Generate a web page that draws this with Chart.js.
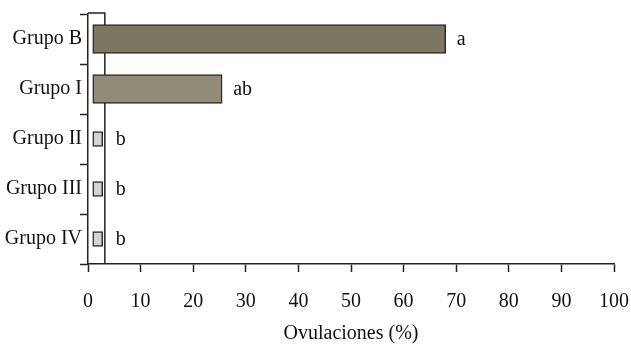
<!DOCTYPE html>
<html>
<head>
<meta charset="utf-8">
<script src="https://cdn.jsdelivr.net/npm/chart.js@4/dist/chart.umd.min.js"></script>
<style>
  html, body { margin: 0; padding: 0; background: #ffffff; }
  #wrap { width: 631px; height: 346px; position: relative; }
</style>
</head>
<body>
<div id="wrap"><canvas id="c" width="631" height="346"></canvas></div>
<script>
// Grupos y porcentaje de ovulaciones
const categories = ['Grupo B', 'Grupo I', 'Grupo II', 'Grupo III', 'Grupo IV'];
const ovulaciones = [68, 25.5, 2.8, 2.8, 2.8];
const letras = ['a', 'ab', 'b', 'b', 'b'];
const xTicks = [0, 10, 20, 30, 40, 50, 60, 70, 80, 90, 100];
const barBase = 0.9;      // bars rise from just inside the y-axis frame
const frameLimit = 3.2;   // right edge of the frame alongside the y-axis

const FONT = '"Liberation Serif", "DejaVu Serif", serif';
const FONT_SIZE = 20;
const INK = '#222222';

// wide bars for the first two groups, narrow ones for the rest
const wideIdx = [0, 1];
const wideData = categories.map((c, i) => wideIdx.includes(i) ? [barBase, ovulaciones[i]] : null);
const narrowData = categories.map((c, i) => wideIdx.includes(i) ? null : [barBase, ovulaciones[i]]);

const framePlugin = {
  id: 'frame',
  beforeDatasetsDraw(chart) {
    const { ctx, chartArea, scales } = chart;
    const x0 = scales.x.getPixelForValue(0);
    const x1 = scales.x.getPixelForValue(frameLimit);
    ctx.save();
    ctx.strokeStyle = INK;
    ctx.lineWidth = 1.5;
    ctx.beginPath();
    ctx.moveTo(x0, chartArea.top - 1);
    ctx.lineTo(x1, chartArea.top - 1);
    ctx.lineTo(x1, chartArea.bottom);
    ctx.stroke();
    ctx.restore();
  }
};

const letterPlugin = {
  id: 'letters',
  afterDatasetsDraw(chart) {
    const { ctx, scales } = chart;
    const frameRight = scales.x.getPixelForValue(frameLimit);
    ctx.save();
    ctx.fillStyle = '#111111';
    ctx.font = FONT_SIZE + 'px ' + FONT;
    ctx.textAlign = 'left';
    ctx.textBaseline = 'middle';
    categories.forEach((c, i) => {
      const end = scales.x.getPixelForValue(ovulaciones[i]);
      const x = Math.max(end, frameRight) + 11;
      const y = scales.y.getPixelForValue(i) + 1;
      ctx.fillText(letras[i], x, y);
    });
    ctx.restore();
  }
};

new Chart(document.getElementById('c'), {
  type: 'bar',
  data: {
    labels: categories,
    datasets: [
      {
        data: wideData,
        backgroundColor: ['#7d7661', '#928b77', null, null, null],
        borderColor: '#2b2b2b',
        borderWidth: 1.5,
        borderSkipped: false,
        barThickness: 29,
        grouped: false
      },
      {
        data: narrowData,
        backgroundColor: '#d3d3d3',
        borderColor: '#2b2b2b',
        borderWidth: 1.5,
        borderSkipped: false,
        barThickness: 15,
        grouped: false
      }
    ]
  },
  options: {
    indexAxis: 'y',
    responsive: false,
    animation: false,
    devicePixelRatio: 1,
    layout: { padding: { top: 14, right: 17, left: 0, bottom: 0 } },
    plugins: {
      legend: { display: false },
      tooltip: { enabled: false }
    },
    scales: {
      x: {
        type: 'linear',
        min: 0,
        max: 100,
        afterBuildTicks(scale) { scale.ticks = xTicks.map(v => ({ value: v })); },
        afterFit(scale) {
          scale.height = 82;
          scale.paddingRight = 0;
          scale.paddingLeft = 0;
        },
        grid: { drawOnChartArea: false, tickLength: 8, tickColor: INK, tickWidth: 1.5 },
        border: { color: INK, width: 1.5 },
        ticks: { color: '#111111', font: { family: FONT, size: FONT_SIZE }, padding: 18, maxRotation: 0 },
        title: {
          display: true,
          text: 'Ovulaciones (%)',
          color: '#111111',
          font: { family: FONT, size: FONT_SIZE },
          padding: { top: 6, bottom: 0 }
        }
      },
      y: {
        type: 'category',
        afterFit(scale) { scale.width = 88; },
        grid: { drawOnChartArea: false, offset: true, tickLength: 8, tickColor: INK, tickWidth: 1.5 },
        border: { color: INK, width: 1.5 },
        ticks: { color: '#111111', font: { family: FONT, size: FONT_SIZE }, padding: -2 }
      }
    }
  },
  plugins: [framePlugin, letterPlugin]
});
</script>
</body>
</html>
